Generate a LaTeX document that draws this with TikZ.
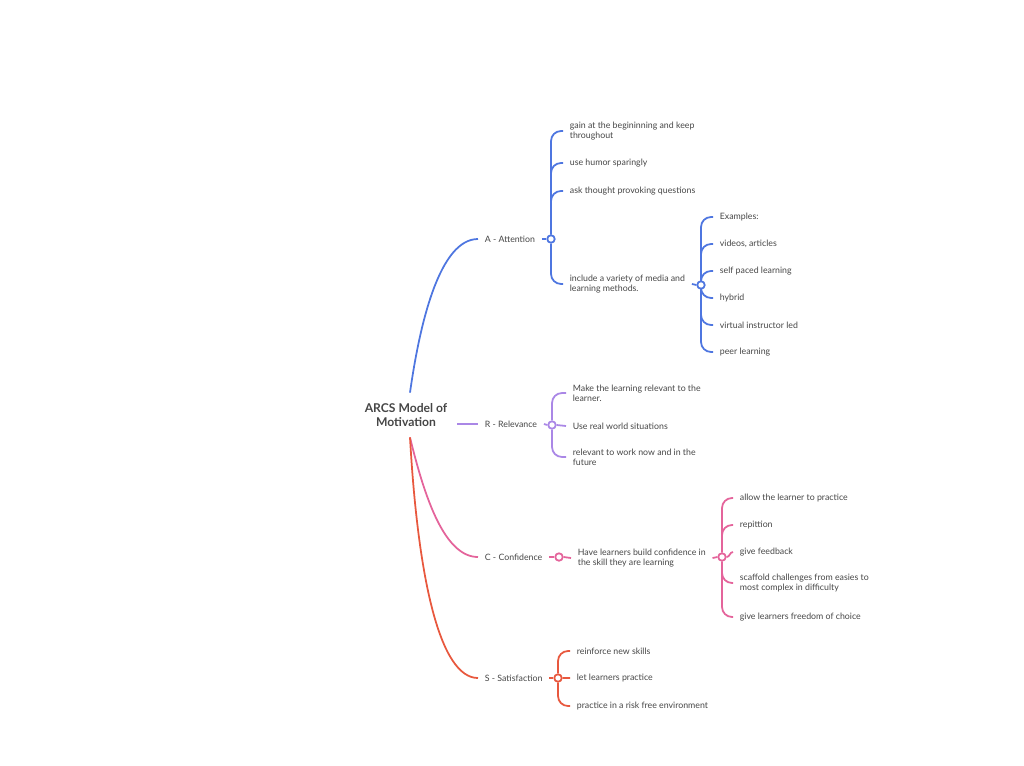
\documentclass[tikz,border=0pt]{standalone}
\usepackage{fontspec}
\setmainfont{Lato}
\usetikzlibrary{positioning}

\definecolor{attcol}{RGB}{78,118,224}
\definecolor{relcol}{RGB}{170,135,230}
\definecolor{concol}{RGB}{228,100,155}
\definecolor{satcol}{RGB}{232,88,62}
\definecolor{inkcol}{RGB}{70,70,70}

\begin{document}
\begin{tikzpicture}[x=0.02cm,y=-0.02cm,line width=1pt,
    root node/.style={align=center,text=inkcol,font=\fontsize{6.9}{7.9}\selectfont\bfseries,inner xsep=0.18cm,inner ysep=0.2cm},
    topic node/.style={anchor=west,text=inkcol,font=\fontsize{5}{5.8}\selectfont,inner xsep=0.12cm,inner ysep=1pt},
    leaf node/.style={topic node,align=left},
    hub node/.style={circle,draw,fill=white,inner sep=0pt,minimum size=0.15cm},
    fork/.style={rounded corners=0.2cm,to path={|- (\tikztotarget)}}]
    \useasboundingbox (0,0) rectangle (1024,765);

    \node[root node] (root) at (406,415) {ARCS Model of\\Motivation};

    % A - Attention
    \node[topic node] (aA) at (478,239) {A - Attention};
    \node[hub node,draw=attcol] (jA) at (551,239) {};
    \node[leaf node] (a1) at (563,131) {gain at the begininning and keep\\throughout};
    \node[leaf node] (a2) [below=0.64cm of a1.west,anchor=west] {use humor sparingly};
    \node[leaf node] (a3) [below=0.56cm of a2.west,anchor=west] {ask thought provoking questions};
    \node[leaf node] (a4) [below=1.86cm of a3.west,anchor=west] {include a variety of media and\\learning methods.};
    \node[hub node,draw=attcol] (jE) at (701,285) {};
    \node[leaf node] (e1) at (713,217) {Examples:};
    \node[leaf node] (e2) [below=0.54cm of e1.west,anchor=west] {videos, articles};
    \node[leaf node] (e3) [below=0.54cm of e2.west,anchor=west] {self paced learning};
    \node[leaf node] (e4) [below=0.54cm of e3.west,anchor=west] {hybrid};
    \node[leaf node] (e5) [below=0.54cm of e4.west,anchor=west] {virtual instructor led};
    \node[leaf node] (e6) [below=0.54cm of e5.west,anchor=west] {peer learning};

    % R - Relevance
    \node[topic node] (rR) at (478,424) {R - Relevance};
    \node[hub node,draw=relcol] (jR) at (552,425) {};
    \node[leaf node] (r1) at (566,393) {Make the learning relevant to the\\learner.};
    \node[leaf node] (r2) [below=0.66cm of r1.west,anchor=west] {Use real world situations};
    \node[leaf node] (r3) [below=0.62cm of r2.west,anchor=west] {relevant to work now and in the\\future};

    % C - Confidence
    \node[topic node] (cC) at (478,557) {C - Confidence};
    \node[hub node,draw=concol] (jC1) at (559,557) {};
    \node[leaf node] (c0) at (571,558) {Have learners build confidence in\\the skill they are learning};
    \node[hub node,draw=concol] (jC2) at (722,557) {};
    \node[leaf node] (k1) at (733,498) {allow the learner to practice};
    \node[leaf node] (k2) [below=0.54cm of k1.west,anchor=west] {repittion};
    \node[leaf node] (k3) [below=0.54cm of k2.west,anchor=west] {give feedback};
    \node[leaf node] (k4) [below=0.62cm of k3.west,anchor=west] {scaffold challenges from easies to\\most complex in difficulty};
    \node[leaf node] (k5) [below=0.68cm of k4.west,anchor=west] {give learners freedom of choice};

    % S - Satisfaction
    \node[topic node] (sS) at (478,678) {S - Satisfaction};
    \node[hub node,draw=satcol] (jS) at (558,678) {};
    \node[leaf node] (s1) at (570,651) {reinforce new skills};
    \node[leaf node] (s2) [below=0.54cm of s1.west,anchor=west] {let learners practice};
    \node[leaf node] (s3) [below=0.56cm of s2.west,anchor=west] {practice in a risk free environment};

    % root to topics
    \draw[attcol] ([xshift=0.08cm]root.north) .. controls +(10,-71) and +(-38,0) .. (aA.west);
    \draw[relcol] (rR.west -| root.east) -- (rR.west);
    \draw[concol] ([xshift=0.08cm]root.south) .. controls +(15,62) and +(-33,0) .. (cC.west);
    \draw[satcol] ([xshift=0.08cm]root.south) .. controls +(8,142) and +(-38,0) .. (sS.west);

    \path[attcol]
        (aA.east) edge (jA.west)
        (jA.north) edge[fork] (a1.west)
        (jA.north) edge[fork] (a2.west)
        (jA.north) edge[fork] (a3.west)
        (jA.south) edge[fork] (a4.west)
        (a4.east) edge (jE.west)
        (jE.north) edge[fork] (e1.west)
        (jE.north) edge[fork] (e2.west)
        (jE.north) edge[fork] (e3.west)
        (jE.south) edge[fork] (e4.west)
        (jE.south) edge[fork] (e5.west)
        (jE.south) edge[fork] (e6.west);

    \path[relcol]
        (rR.east) edge (jR.west)
        (jR.north) edge[fork] (r1.west)
        (jR.east) edge (r2.west)
        (jR.south) edge[fork] (r3.west);

    \path[concol]
        (cC.east) edge (jC1.west)
        (jC1.east) edge (c0.west)
        (c0.east) edge (jC2.west)
        (jC2.north) edge[fork] (k1.west)
        (jC2.north) edge[fork] (k2.west)
        (jC2) edge[out=0,in=180] (k3.west)
        (jC2.south) edge[fork] (k4.west)
        (jC2.south) edge[fork] (k5.west);

    \path[satcol]
        (sS.east) edge (jS.west)
        (jS.north) edge[fork] (s1.west)
        (jS.east) edge (s2.west)
        (jS.south) edge[fork] (s3.west);
\end{tikzpicture}
\end{document}
